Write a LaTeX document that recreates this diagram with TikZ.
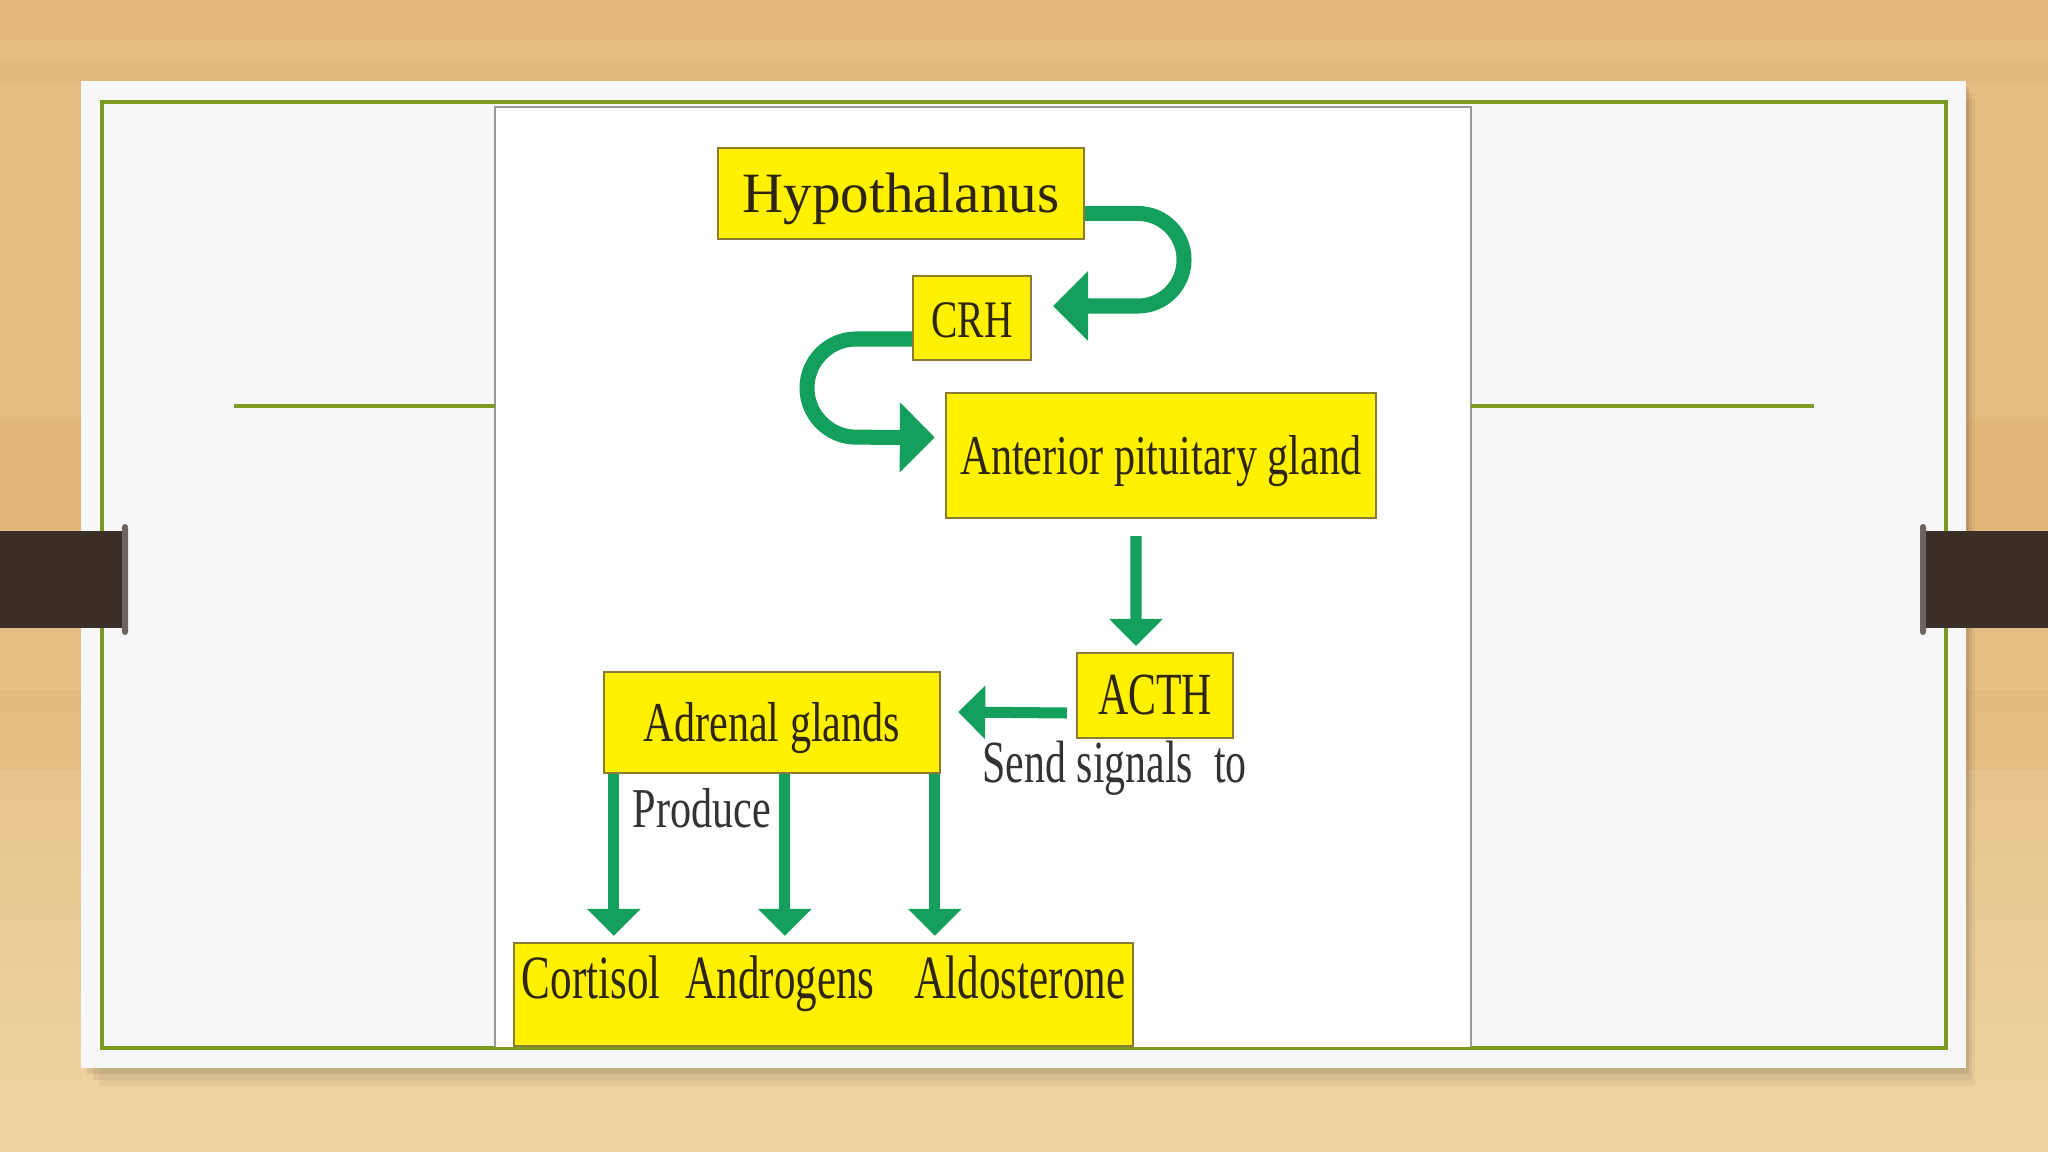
\documentclass[tikz,border=0pt]{standalone}
\usepackage{fontspec}
\setmainfont{Liberation Serif}
\newfontfamily\condserif[FakeStretch=0.75]{Liberation Serif}
\newfontfamily\tightserif[FakeStretch=0.70]{Liberation Serif}
\usetikzlibrary{arrows.meta,calc}

\definecolor{woodtan}{HTML}{E4BC80}
\definecolor{woodlight}{HTML}{EFD4A2}
\definecolor{woodgrain}{HTML}{C98F4E}
\definecolor{slidegray}{HTML}{F7F7F9}
\definecolor{framegreen}{HTML}{7A9A22}
\definecolor{barbrown}{HTML}{3B3028}
\definecolor{boxyellow}{HTML}{FFF100}
\definecolor{boxedge}{HTML}{8A7A35}
\definecolor{inkbrown}{HTML}{2E2612}
\definecolor{arrowgreen}{HTML}{14A05C}

\begin{document}
\begin{tikzpicture}[x=0.01cm,y=-0.01cm,
  box/.style={draw=boxedge,line width=0.6pt,fill=boxyellow,inner sep=0pt,text=inkbrown,text height=0.38cm,text depth=0pt},
  caption/.style={text=black!80,inner sep=0pt},
  bigarrow/.style={draw=arrowgreen,line width=0.15cm,-{Triangle[length=0.35cm,width=0.68cm]}},
  arrow/.style={draw=arrowgreen,line width=0.11cm,-{Triangle[length=0.27cm,width=0.52cm]}},
  frameline/.style={draw=framegreen,line width=0.9pt},
  bar/.style={fill=barbrown}
]
\useasboundingbox (0,0) rectangle (2048,1152);

% Wooden table behind the slide
\shade[top color=woodtan,bottom color=woodlight,middle color=woodtan] (0,0) rectangle (2048,1152);
\foreach \y/\h/\o in {0/40/0.10,60/25/0.06,420/110/0.12,540/70/0.08,690/80/0.10}
  \fill[woodgrain,opacity=\o] (0,\y) rectangle (2048,\y+\h);

% Slide card with its shadow and green frame
\foreach \s/\o in {18/0.04,12/0.06,6/0.08}
  \fill[black,opacity=\o] (81+\s,81+\s) rectangle (1966+\s/2,1068+\s);
\fill[slidegray] (81,81) rectangle (1966,1068);
\draw[frameline] (102,102) rectangle (1946,1048);
\fill[white] (495,107) rectangle (1471,1047);
\draw[black!40,line width=0.4pt] (495,1047) -- (495,107) -- (1471,107) -- (1471,1047);
\draw[frameline] (234,406) -- (495,406);
\draw[frameline] (1471,406) -- (1814,406);

% Binder clips on both sides
\fill[bar] (0,531) rectangle (127,628);
\fill[barbrown!75!white,rounded corners=0.03cm] (122,524) rectangle (128,635);
\fill[bar] (1921,531) rectangle (2048,628);
\fill[barbrown!75!white,rounded corners=0.03cm] (1920,524) rectangle (1926,635);

% Boxes of the axis
\node[box,font=\fontsize{16.2}{19}\selectfont,minimum width=3.66cm,minimum height=0.91cm] (hyp) at (901,193.5) {Hypothalanus};
\node[box,font=\condserif\fontsize{15}{18}\selectfont,minimum width=1.18cm,minimum height=0.84cm] (crh) at (972,318) {CRH};
\node[box,font=\condserif\fontsize{16}{19}\selectfont,minimum width=4.30cm,minimum height=1.25cm] (ant) at (1161,455.5) {Anterior pituitary gland};
\node[box,font=\tightserif\fontsize{17}{20}\selectfont,minimum width=1.56cm,minimum height=0.85cm] (act) at (1155,695.5) {ACTH};
\node[box,font=\condserif\fontsize{16}{19}\selectfont,minimum width=3.36cm,minimum height=1.01cm] (adr) at (772,722.5) {Adrenal glands};
\node[box,font=\tightserif\fontsize{17.5}{20}\selectfont,minimum width=6.19cm,minimum height=1.03cm,text depth=0.3cm] (out) at (823.5,994.5) {Cortisol\hspace{0.25cm}Androgens\hspace{0.4cm}Aldosterone};
\node[caption,font=\tightserif\fontsize{17}{20}\selectfont,anchor=base west] (sig) at (982,782) {Send signals\ \ to};
\node[caption,font=\condserif\fontsize{16}{19}\selectfont,anchor=base west] (prod) at (632,827) {Produce};

% Curved releases: hypothalamus -> CRH -> pituitary
\draw[bigarrow,rounded corners=0.46cm] ($(hyp.east)+(0,20)$) -- (1184,213.5) -- (1184,306) -- ($(crh.east)+(21,-12)$);
\draw[bigarrow,rounded corners=0.49cm] ($(crh.west)+(0,21)$) -- (807,339) -- (807,437) -- ($(ant.west)+(-10,-18)$);

% Straight signals down the axis
\draw[arrow] ([xshift=-0.25cm,yshift=-0.17cm]ant.south) -- ([xshift=-0.19cm,yshift=0.06cm]act.north);
\draw[arrow] ([xshift=-0.09cm,yshift=-0.175cm]act.west) -- ([xshift=0.17cm,yshift=0.105cm]adr.east);
\foreach \dx in {11,182,332}
  \draw[arrow] ($(adr.south west)+(\dx,0)$) -- ($(adr.south west |- out.north)+(\dx,-6)$);
\end{tikzpicture}
\end{document}
